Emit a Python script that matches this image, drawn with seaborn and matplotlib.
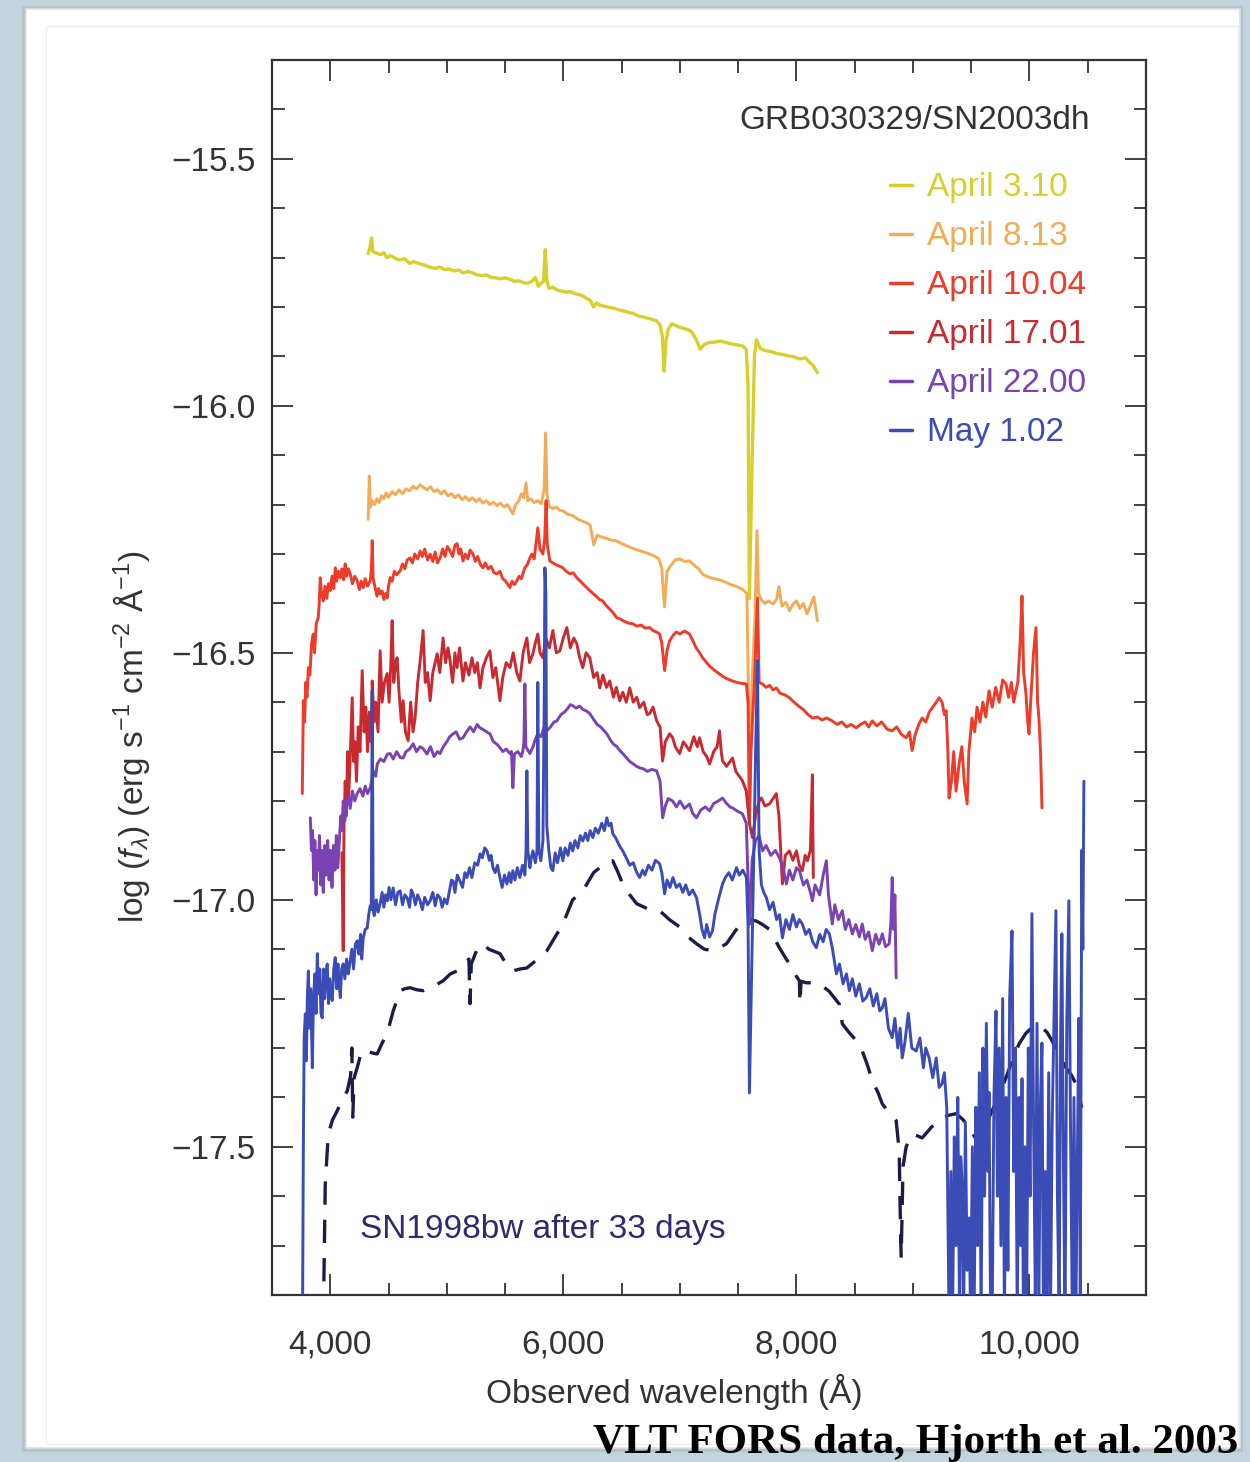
import matplotlib
matplotlib.use("Agg")
import matplotlib.pyplot as plt
import seaborn as sns
import pandas as pd
from matplotlib.ticker import MultipleLocator, FuncFormatter
from matplotlib.patches import Rectangle
from matplotlib.lines import Line2D

sns.set_theme(style="ticks")
plt.rcParams["font.family"] = ["Liberation Sans", "DejaVu Sans"]
plt.rcParams["mathtext.fontset"] = "custom"
plt.rcParams["mathtext.rm"] = "Liberation Sans"
plt.rcParams["mathtext.it"] = "Liberation Sans:italic"

# ---------------- data: (wavelength [A], log f_lambda) ----------------
yellow = [(4325,-15.692),(4340,-15.680),(4355,-15.660),(4365,-15.688),(4390,-15.690),(4430,-15.694),
          (4460,-15.690),(4485,-15.700),(4515,-15.696),(4540,-15.699),(4570,-15.703),(4600,-15.705),
          (4640,-15.702),(4680,-15.712),(4715,-15.708),(4750,-15.711),(4790,-15.714),(4820,-15.716),
          (4860,-15.720),(4900,-15.722),(4940,-15.719),(4980,-15.724),(5020,-15.723),(5060,-15.727),
          (5100,-15.725),(5140,-15.731),(5180,-15.728),(5220,-15.731),(5260,-15.735),(5300,-15.736),
          (5340,-15.735),(5380,-15.740),(5420,-15.741),(5460,-15.743),(5500,-15.741),(5540,-15.744),
          (5580,-15.748),(5620,-15.747),(5660,-15.751),(5700,-15.752),(5735,-15.747),(5760,-15.740),
          (5785,-15.758),(5810,-15.752),(5830,-15.748),(5845,-15.684),(5858,-15.745),(5875,-15.762),
          (5910,-15.760),(5950,-15.766),(5990,-15.768),(6020,-15.770),(6060,-15.769),(6100,-15.773),
          (6140,-15.775),(6170,-15.778),(6200,-15.783),(6230,-15.786),(6260,-15.800),(6285,-15.792),
          (6320,-15.797),(6360,-15.799),(6400,-15.801),(6440,-15.803),(6480,-15.806),(6520,-15.808),
          (6560,-15.811),(6600,-15.813),(6640,-15.818),(6700,-15.821),(6760,-15.825),(6800,-15.828),
          (6830,-15.836),(6850,-15.860),(6865,-15.930),(6880,-15.870),(6900,-15.845),(6930,-15.834),
          (6970,-15.838),(7010,-15.842),(7060,-15.845),(7100,-15.850),(7140,-15.866),(7175,-15.885),
          (7210,-15.876),(7250,-15.872),(7300,-15.871),(7350,-15.869),(7400,-15.872),(7450,-15.875),
          (7500,-15.877),(7540,-15.879),(7570,-15.886),(7585,-15.960),(7597,-16.390),(7615,-16.170),
          (7640,-15.900),(7657,-15.866),(7690,-15.884),(7730,-15.888),(7780,-15.890),(7830,-15.894),
          (7880,-15.896),(7930,-15.899),(7980,-15.901),(8030,-15.905),(8080,-15.903),(8110,-15.912),
          (8140,-15.917),(8160,-15.925),(8180,-15.933)]

orange = [(4325,-16.230),(4335,-16.142),(4345,-16.205),(4360,-16.192),(4380,-16.200),(4400,-16.188),
          (4420,-16.196),(4440,-16.182),(4460,-16.188),(4480,-16.176),(4500,-16.185),(4530,-16.174),
          (4560,-16.180),(4590,-16.170),(4620,-16.178),(4650,-16.168),(4680,-16.172),(4710,-16.163),
          (4740,-16.168),(4770,-16.160),(4800,-16.165),(4830,-16.170),(4860,-16.164),(4890,-16.174),
          (4920,-16.170),(4950,-16.178),(4980,-16.172),(5010,-16.182),(5040,-16.178),(5070,-16.186),
          (5100,-16.180),(5130,-16.190),(5160,-16.184),(5190,-16.192),(5220,-16.186),(5250,-16.194),
          (5280,-16.188),(5310,-16.197),(5340,-16.192),(5370,-16.200),(5400,-16.195),(5430,-16.202),
          (5460,-16.197),(5490,-16.205),(5520,-16.200),(5545,-16.210),(5567,-16.219),(5590,-16.200),
          (5615,-16.194),(5640,-16.178),(5660,-16.186),(5680,-16.156),(5695,-16.192),(5720,-16.188),
          (5750,-16.196),(5780,-16.192),(5810,-16.198),(5835,-16.170),(5848,-16.055),(5860,-16.180),
          (5880,-16.204),(5910,-16.208),(5940,-16.205),(5970,-16.212),(6000,-16.213),(6040,-16.220),
          (6080,-16.222),(6120,-16.229),(6160,-16.233),(6200,-16.237),(6230,-16.241),(6260,-16.281),
          (6290,-16.262),(6330,-16.266),(6370,-16.268),(6410,-16.272),(6450,-16.273),(6490,-16.278),
          (6530,-16.282),(6570,-16.286),(6610,-16.290),(6650,-16.293),(6690,-16.296),(6730,-16.299),
          (6780,-16.304),(6820,-16.310),(6845,-16.330),(6868,-16.407),(6890,-16.335),(6920,-16.324),
          (6960,-16.312),(7000,-16.310),(7040,-16.315),(7080,-16.314),(7120,-16.322),(7160,-16.330),
          (7200,-16.342),(7240,-16.346),(7290,-16.350),(7340,-16.352),(7390,-16.357),(7440,-16.362),
          (7490,-16.366),(7540,-16.372),(7575,-16.380),(7590,-16.600),(7600,-16.800),(7620,-16.560),
          (7645,-16.420),(7662,-16.253),(7675,-16.380),(7700,-16.393),(7730,-16.400),(7760,-16.395),
          (7800,-16.401),(7830,-16.392),(7850,-16.366),(7875,-16.405),(7910,-16.398),(7940,-16.415),
          (7970,-16.402),(8000,-16.395),(8030,-16.410),(8060,-16.400),(8090,-16.421),(8120,-16.405),
          (8150,-16.387),(8165,-16.410),(8180,-16.435)]

red = [(3760,-16.785),(3769,-16.597),(3780,-16.640),(3790,-16.560),(3800,-16.590),(3812,-16.530),
       (3825,-16.545),(3840,-16.480),(3854,-16.462),(3865,-16.500),(3880,-16.440),(3897,-16.429),
       (3905,-16.400),(3914,-16.348),(3925,-16.380),(3940,-16.395),(3955,-16.365),(3970,-16.390),
       (3985,-16.360),(4000,-16.374),(4015,-16.345),(4030,-16.370),(4043,-16.328),(4055,-16.355),
       (4070,-16.335),(4086,-16.348),(4100,-16.330),(4115,-16.352),(4128,-16.320),(4140,-16.345),
       (4155,-16.330),(4171,-16.340),(4190,-16.360),(4210,-16.345),(4231,-16.354),(4250,-16.372),
       (4265,-16.355),(4283,-16.368),(4300,-16.350),(4320,-16.365),(4343,-16.354),(4353,-16.330),
       (4360,-16.273),(4368,-16.350),(4385,-16.368),(4400,-16.385),(4415,-16.370),(4428,-16.381),
       (4445,-16.375),(4460,-16.392),(4475,-16.380),(4488,-16.389),(4500,-16.365),(4514,-16.348),
       (4530,-16.355),(4550,-16.335),(4570,-16.342),(4600,-16.334),(4620,-16.320),(4640,-16.330),
       (4660,-16.312),(4685,-16.308),(4705,-16.318),(4725,-16.300),(4750,-16.310),(4771,-16.294),
       (4790,-16.305),(4810,-16.290),(4835,-16.312),(4857,-16.300),(4880,-16.315),(4900,-16.296),
       (4920,-16.318),(4942,-16.308),(4965,-16.290),(4985,-16.305),(5005,-16.285),(5028,-16.294),
       (5050,-16.305),(5070,-16.282),(5088,-16.279),(5105,-16.300),(5120,-16.290),(5139,-16.314),
       (5160,-16.300),(5180,-16.310),(5200,-16.292),(5225,-16.300),(5245,-16.315),(5265,-16.305),
       (5290,-16.322),(5310,-16.328),(5330,-16.318),(5355,-16.330),(5380,-16.325),(5405,-16.338),
       (5430,-16.340),(5455,-16.335),(5480,-16.350),(5505,-16.355),(5525,-16.362),(5542,-16.368),
       (5560,-16.355),(5580,-16.362),(5602,-16.354),(5620,-16.345),(5640,-16.350),(5653,-16.340),
       (5670,-16.328),(5690,-16.322),(5713,-16.308),(5730,-16.300),(5750,-16.310),(5765,-16.280),
       (5781,-16.247),(5800,-16.290),(5824,-16.300),(5840,-16.270),(5852,-16.192),(5862,-16.280),
       (5884,-16.314),(5910,-16.318),(5940,-16.322),(5970,-16.325),(5996,-16.328),(6025,-16.335),
       (6055,-16.340),(6085,-16.338),(6116,-16.348),(6145,-16.355),(6175,-16.362),(6200,-16.368),
       (6227,-16.374),(6255,-16.380),(6285,-16.386),(6310,-16.392),(6338,-16.395),(6370,-16.405),
       (6400,-16.412),(6430,-16.420),(6458,-16.429),(6490,-16.432),(6520,-16.436),(6560,-16.440),
       (6595,-16.441),(6630,-16.446),(6670,-16.444),(6700,-16.450),(6741,-16.449),(6770,-16.455),
       (6800,-16.458),(6826,-16.462),(6845,-16.480),(6869,-16.536),(6890,-16.495),(6912,-16.476),
       (6940,-16.465),(6970,-16.458),(7000,-16.462),(7040,-16.456),(7083,-16.462),(7110,-16.475),
       (7140,-16.490),(7170,-16.500),(7195,-16.510),(7230,-16.520),(7260,-16.528),(7300,-16.536),
       (7340,-16.543),(7370,-16.548),(7400,-16.552),(7430,-16.555),(7452,-16.557),(7490,-16.560),
       (7530,-16.562),(7571,-16.563),(7585,-16.600),(7597,-16.846),(7610,-16.700),(7640,-16.560),
       (7666,-16.389),(7680,-16.560),(7709,-16.563),(7740,-16.570),(7770,-16.566),(7800,-16.575),
       (7828,-16.571),(7860,-16.582),(7900,-16.585),(7940,-16.591),(7980,-16.600),(8020,-16.608),
       (8060,-16.615),(8100,-16.625),(8137,-16.632),(8180,-16.630),(8220,-16.636),(8260,-16.632),
       (8308,-16.638),(8350,-16.645),(8390,-16.640),(8430,-16.650),(8470,-16.645),(8514,-16.652),
       (8550,-16.645),(8590,-16.640),(8620,-16.650),(8651,-16.638),(8690,-16.648),(8730,-16.640),
       (8780,-16.655),(8822,-16.658),(8860,-16.650),(8900,-16.665),(8942,-16.672),(8970,-16.660),
       (8993,-16.698),(9020,-16.665),(9050,-16.645),(9079,-16.632),(9110,-16.640),(9140,-16.620),
       (9170,-16.610),(9200,-16.600),(9225,-16.591),(9250,-16.600),(9270,-16.625),(9285,-16.617),
       (9300,-16.700),(9310,-16.794),(9330,-16.760),(9350,-16.700),(9370,-16.780),(9396,-16.725),
       (9420,-16.690),(9440,-16.760),(9465,-16.806),(9480,-16.700),(9507,-16.632),(9530,-16.660),
       (9550,-16.610),(9575,-16.640),(9600,-16.600),(9625,-16.630),(9653,-16.577),(9680,-16.610),
       (9710,-16.570),(9740,-16.600),(9770,-16.555),(9799,-16.563),(9820,-16.590),(9845,-16.560),
       (9865,-16.600),(9884,-16.577),(9900,-16.560),(9920,-16.480),(9936,-16.385),(9950,-16.540),
       (9970,-16.583),(9985,-16.640),(9996,-16.664),(10010,-16.600),(10035,-16.500),(10056,-16.449),
       (10070,-16.600),(10081,-16.632),(10095,-16.700),(10107,-16.814)]

darkred = [(4100,-16.905),(4111,-17.103),(4118,-16.850),(4128,-16.760),(4138,-16.830),(4148,-16.700),
           (4158,-16.790),(4170,-16.720),(4188,-16.591),(4200,-16.720),(4212,-16.680),(4225,-16.760),
           (4240,-16.650),(4255,-16.700),(4274,-16.536),(4290,-16.660),(4305,-16.610),(4320,-16.700),
           (4335,-16.620),(4350,-16.680),(4360,-16.557),(4375,-16.640),(4390,-16.600),(4410,-16.660),
           (4428,-16.496),(4445,-16.600),(4465,-16.560),(4488,-16.542),(4505,-16.600),(4520,-16.520),
           (4531,-16.435),(4545,-16.560),(4560,-16.520),(4574,-16.510),(4590,-16.580),(4610,-16.640),
           (4625,-16.597),(4645,-16.660),(4668,-16.678),(4690,-16.600),(4710,-16.660),(4728,-16.632),
           (4750,-16.560),(4770,-16.520),(4797,-16.455),(4815,-16.560),(4835,-16.540),(4857,-16.597),
           (4880,-16.540),(4900,-16.520),(4917,-16.502),(4940,-16.540),(4968,-16.470),(4990,-16.520),
           (5010,-16.490),(5028,-16.516),(5050,-16.560),(5070,-16.500),(5088,-16.530),(5110,-16.490),
           (5139,-16.557),(5160,-16.520),(5190,-16.545),(5216,-16.510),(5240,-16.540),(5262,-16.520),
           (5285,-16.571),(5310,-16.530),(5340,-16.510),(5370,-16.496),(5395,-16.550),(5420,-16.530),
           (5456,-16.597),(5480,-16.550),(5510,-16.520),(5542,-16.530),(5570,-16.500),(5600,-16.540),
           (5627,-16.557),(5655,-16.500),(5687,-16.470),(5710,-16.520),(5739,-16.502),(5760,-16.480),
           (5781,-16.462),(5800,-16.500),(5824,-16.510),(5850,-16.470),(5880,-16.490),(5910,-16.455),
           (5940,-16.500),(5970,-16.496),(6000,-16.470),(6030,-16.449),(6060,-16.490),(6090,-16.470),
           (6116,-16.482),(6140,-16.510),(6167,-16.530),(6195,-16.500),(6227,-16.510),(6260,-16.550),
           (6290,-16.540),(6313,-16.571),(6340,-16.545),(6370,-16.570),(6398,-16.557),(6430,-16.590),
           (6455,-16.570),(6484,-16.597),(6510,-16.580),(6540,-16.600),(6570,-16.571),(6600,-16.600),
           (6630,-16.590),(6655,-16.611),(6690,-16.600),(6720,-16.625),(6741,-16.623),(6770,-16.610),
           (6801,-16.638),(6830,-16.650),(6852,-16.719),(6875,-16.680),(6912,-16.664),(6938,-16.672),
           (6960,-16.690),(6998,-16.704),(7030,-16.680),(7060,-16.690),(7083,-16.698),(7120,-16.670),
           (7150,-16.690),(7169,-16.672),(7200,-16.700),(7230,-16.710),(7255,-16.725),(7290,-16.700),
           (7320,-16.690),(7340,-16.658),(7355,-16.700),(7366,-16.719),(7400,-16.730),(7430,-16.720),
           (7452,-16.713),(7480,-16.740),(7510,-16.750),(7537,-16.759),(7570,-16.780),(7597,-16.846),
           (7623,-16.874),(7650,-16.830),(7680,-16.800),(7700,-16.794),(7730,-16.810),(7769,-16.806),
           (7800,-16.795),(7828,-16.785),(7850,-16.830),(7880,-16.968),(7905,-16.910),(7940,-16.901),
           (7970,-16.920),(8000,-16.901),(8025,-16.930),(8051,-16.941),(8075,-16.910),(8094,-16.921),
           (8120,-16.900),(8137,-16.747),(8145,-16.955)]

purple = [(3829,-16.834),(3838,-16.900),(3848,-16.860),(3858,-16.960),(3868,-16.880),(3878,-16.990),
          (3888,-16.900),(3898,-16.940),(3908,-16.870),(3918,-16.970),(3928,-16.900),(3940,-16.985),
          (3952,-16.890),(3965,-16.950),(3978,-16.880),(3990,-16.960),(4002,-16.900),(4015,-16.975),
          (4028,-16.890),(4040,-16.940),(4052,-16.870),(4065,-16.935),(4078,-16.880),(4090,-16.830),
          (4100,-16.860),(4111,-16.800),(4125,-16.840),(4140,-16.810),(4155,-16.790),(4171,-16.815),
          (4190,-16.780),(4210,-16.800),(4231,-16.785),(4255,-16.775),(4280,-16.790),(4300,-16.770),
          (4320,-16.785),(4343,-16.773),(4370,-16.740),(4390,-16.750),(4403,-16.725),(4430,-16.715),
          (4460,-16.720),(4490,-16.705),(4514,-16.704),(4540,-16.715),(4570,-16.700),(4600,-16.712),
          (4625,-16.713),(4650,-16.700),(4680,-16.695),(4711,-16.684),(4740,-16.700),(4770,-16.690),
          (4797,-16.694),(4830,-16.705),(4860,-16.690),(4890,-16.710),(4920,-16.700),(4942,-16.704),
          (4970,-16.690),(5000,-16.680),(5025,-16.670),(5054,-16.664),(5080,-16.660),(5110,-16.675),
          (5139,-16.672),(5170,-16.660),(5200,-16.650),(5230,-16.660),(5260,-16.645),(5285,-16.652),
          (5310,-16.655),(5340,-16.660),(5370,-16.664),(5400,-16.680),(5430,-16.685),(5456,-16.692),
          (5480,-16.700),(5510,-16.695),(5542,-16.704),(5555,-16.700),(5567,-16.773),(5580,-16.705),
          (5610,-16.700),(5640,-16.710),(5653,-16.698),(5662,-16.680),(5670,-16.563),(5678,-16.690),
          (5713,-16.704),(5740,-16.690),(5760,-16.675),(5781,-16.664),(5810,-16.670),(5835,-16.650),
          (5859,-16.658),(5890,-16.650),(5920,-16.640),(5944,-16.638),(5980,-16.625),(6010,-16.620),
          (6040,-16.612),(6060,-16.605),(6081,-16.607),(6110,-16.612),(6140,-16.608),(6170,-16.615),
          (6200,-16.618),(6227,-16.623),(6260,-16.635),(6290,-16.645),(6320,-16.650),(6350,-16.658),
          (6373,-16.664),(6400,-16.675),(6430,-16.685),(6460,-16.690),(6485,-16.698),(6510,-16.704),
          (6540,-16.712),(6570,-16.720),(6600,-16.725),(6630,-16.730),(6655,-16.733),(6690,-16.735),
          (6720,-16.740),(6760,-16.736),(6801,-16.739),(6830,-16.760),(6852,-16.834),(6875,-16.810),
          (6900,-16.795),(6938,-16.800),(6970,-16.812),(7000,-16.800),(7040,-16.815),(7083,-16.806),
          (7110,-16.825),(7143,-16.834),(7180,-16.818),(7220,-16.812),(7255,-16.820),(7290,-16.805),
          (7330,-16.800),(7366,-16.794),(7400,-16.805),(7430,-16.812),(7452,-16.814),(7490,-16.820),
          (7537,-16.826),(7570,-16.845),(7597,-17.050),(7620,-16.920),(7650,-16.880),(7680,-16.870),
          (7709,-16.901),(7740,-16.890),(7780,-16.910),(7820,-16.900),(7854,-16.915),(7880,-16.930),
          (7914,-16.968),(7940,-16.940),(7970,-16.960),(8000,-16.935),(8026,-16.941),(8060,-16.970),
          (8090,-16.960),(8120,-16.985),(8137,-17.002),(8160,-16.970),(8200,-16.990),(8230,-16.950),
          (8257,-16.921),(8275,-16.990),(8308,-17.049),(8330,-17.010),(8360,-17.040),(8394,-17.022),
          (8420,-17.060),(8450,-17.040),(8480,-17.069),(8510,-17.050),(8540,-17.075),(8565,-17.049),
          (8590,-17.080),(8620,-17.065),(8651,-17.103),(8680,-17.070),(8710,-17.090),(8737,-17.069),
          (8765,-17.095),(8796,-17.089),(8810,-17.050),(8822,-16.955),(8835,-17.060),(8845,-16.990),
          (8856,-17.158)]

blue = [(3762,-17.85),(3769,-17.50),(3776,-17.28),(3786,-17.231),(3795,-17.326),(3803,-17.200),
        (3812,-17.144),(3822,-17.260),(3832,-17.180),(3846,-17.340),(3856,-17.200),(3868,-17.150),
        (3878,-17.230),(3889,-17.109),(3900,-17.190),(3910,-17.140),(3920,-17.230),(3931,-17.239),
        (3942,-17.140),(3952,-17.200),(3963,-17.150),(3974,-17.130),(3985,-17.210),(3995,-17.160),
        (4005,-17.190),(4017,-17.204),(4030,-17.140),(4043,-17.117),(4055,-17.180),(4066,-17.130),
        (4076,-17.170),(4086,-17.198),(4098,-17.140),(4111,-17.130),(4125,-17.160),(4140,-17.120),
        (4155,-17.150),(4171,-17.124),(4185,-17.100),(4200,-17.140),(4215,-17.090),(4231,-17.083),
        (4245,-17.110),(4260,-17.070),(4270,-17.120),(4283,-17.077),(4300,-17.060),(4317,-17.057),
        (4330,-17.030),(4343,-17.012),(4352,-17.020),(4360,-16.577),(4368,-17.020),(4377,-17.032),
        (4395,-17.000),(4410,-17.025),(4428,-17.008),(4445,-16.985),(4460,-17.015),(4475,-16.990),
        (4488,-17.002),(4505,-16.975),(4520,-17.000),(4540,-16.976),(4560,-17.010),(4580,-16.985),
        (4600,-16.982),(4620,-17.010),(4640,-16.990),(4660,-16.996),(4680,-17.015),(4695,-16.980),
        (4711,-16.988),(4730,-17.010),(4750,-16.990),(4771,-17.002),(4790,-17.020),(4810,-16.995),
        (4835,-17.010),(4857,-17.002),(4880,-16.985),(4900,-17.012),(4920,-16.990),(4942,-16.996),
        (4960,-17.015),(4980,-16.998),(5002,-17.008),(5020,-16.985),(5040,-16.960),(5054,-16.962),
        (5070,-16.985),(5090,-16.950),(5113,-16.962),(5135,-16.975),(5155,-16.945),(5173,-16.955),
        (5195,-16.935),(5215,-16.955),(5240,-16.925),(5265,-16.930),(5285,-16.907),(5305,-16.915),
        (5325,-16.895),(5345,-16.901),(5365,-16.920),(5380,-16.910),(5396,-16.935),(5415,-16.945),
        (5435,-16.930),(5456,-16.955),(5475,-16.975),(5495,-16.950),(5516,-16.968),(5535,-16.945),
        (5550,-16.965),(5567,-16.941),(5585,-16.960),(5605,-16.935),(5627,-16.955),(5650,-16.930),
        (5670,-16.950),(5680,-16.900),(5687,-16.739),(5695,-16.900),(5713,-16.935),(5725,-16.915),
        (5739,-16.901),(5760,-16.925),(5774,-16.900),(5781,-16.560),(5790,-16.900),(5807,-16.921),
        (5825,-16.880),(5836,-16.600),(5842,-16.328),(5850,-16.380),(5858,-16.850),(5876,-16.901),
        (5893,-16.935),(5910,-16.941),(5930,-16.905),(5950,-16.925),(5975,-16.895),(5996,-16.921),
        (6015,-16.895),(6040,-16.910),(6060,-16.885),(6081,-16.901),(6100,-16.880),(6125,-16.895),
        (6145,-16.870),(6167,-16.881),(6190,-16.865),(6210,-16.880),(6230,-16.860),(6253,-16.874),
        (6275,-16.855),(6300,-16.865),(6330,-16.845),(6352,-16.860),(6373,-16.834),(6390,-16.850),
        (6410,-16.845),(6424,-16.866),(6450,-16.875),(6480,-16.890),(6510,-16.901),(6540,-16.915),
        (6570,-16.930),(6600,-16.925),(6630,-16.945),(6655,-16.955),(6680,-16.940),(6700,-16.950),
        (6730,-16.930),(6760,-16.940),(6790,-16.920),(6826,-16.927),(6845,-16.945),(6869,-16.988),
        (6890,-16.960),(6915,-16.975),(6940,-16.955),(6970,-16.975),(6998,-16.968),(7025,-16.985),
        (7050,-16.970),(7080,-16.990),(7110,-16.980),(7143,-16.996),(7170,-17.030),(7190,-17.060),
        (7212,-17.077),(7230,-17.050),(7255,-17.075),(7280,-17.063),(7300,-17.030),(7330,-17.000),
        (7366,-16.968),(7390,-16.955),(7420,-16.945),(7450,-16.960),(7486,-16.935),(7510,-16.950),
        (7540,-16.940),(7571,-16.955),(7585,-17.050),(7597,-17.391),(7612,-17.200),(7635,-16.900),
        (7650,-16.700),(7666,-16.516),(7680,-16.900),(7700,-16.970),(7720,-16.985),(7743,-16.996),
        (7770,-17.020),(7800,-17.005),(7830,-17.040),(7855,-17.030),(7880,-17.077),(7910,-17.040),
        (7940,-17.060),(7970,-17.030),(8000,-17.055),(8025,-17.040),(8051,-17.049),(8080,-17.070),
        (8110,-17.060),(8140,-17.085),(8171,-17.097),(8200,-17.070),(8230,-17.085),(8255,-17.060),
        (8283,-17.069),(8310,-17.100),(8343,-17.150),(8370,-17.130),(8400,-17.170),(8430,-17.150),
        (8454,-17.184),(8480,-17.160),(8510,-17.195),(8540,-17.170),(8570,-17.205),(8599,-17.198),
        (8630,-17.180),(8660,-17.215),(8690,-17.190),(8715,-17.225),(8737,-17.219),(8760,-17.200),
        (8790,-17.260),(8822,-17.279),(8845,-17.240),(8870,-17.300),(8890,-17.260),(8908,-17.320),
        (8930,-17.290),(8960,-17.230),(8990,-17.300),(9028,-17.306),(9060,-17.280),(9090,-17.340),
        (9110,-17.300),(9139,-17.320),(9170,-17.360),(9200,-17.320),(9225,-17.380),(9250,-17.372),
        (9270,-17.350),(9290,-17.420),(9310,-17.85),(9325,-17.55),(9340,-17.85),(9355,-17.48),
        (9370,-17.70),(9385,-17.40),(9400,-17.85),(9410,-17.52),(9422,-17.575),(9435,-17.85),
        (9450,-17.45),(9465,-17.75),(9482,-17.644),(9495,-17.85),(9510,-17.50),(9525,-17.85),
        (9540,-17.42),(9555,-17.70),(9570,-17.35),(9585,-17.85),(9600,-17.30),(9615,-17.60),
        (9630,-17.25),(9645,-17.55),(9653,-17.39),(9665,-17.80),(9680,-17.85),(9695,-17.40),
        (9713,-17.225),(9725,-17.60),(9740,-17.30),(9755,-17.70),(9770,-17.20),(9785,-17.85),
        (9800,-17.40),(9815,-17.75),(9830,-17.20),(9850,-17.063),(9865,-17.55),(9880,-17.30),
        (9895,-17.85),(9910,-17.40),(9925,-17.70),(9936,-17.362),(9948,-17.85),(9960,-17.50),
        (9975,-17.85),(9990,-17.30),(10005,-17.60),(10021,-17.028),(10035,-17.45),(10050,-17.80),
        (10065,-17.25),(10080,-17.85),(10095,-17.40),(10107,-17.29),(10120,-17.85),(10135,-17.55),
        (10150,-17.85),(10165,-17.35),(10180,-17.85),(10195,-17.45),(10210,-17.25),(10227,-17.022),
        (10240,-17.60),(10255,-17.85),(10266,-17.30),(10278,-17.069),(10290,-17.50),(10305,-17.85),
        (10320,-17.25),(10338,-17.002),(10352,-17.45),(10368,-17.85),(10382,-17.40),(10398,-17.85),
        (10410,-17.55),(10424,-17.24),(10436,-17.80),(10449,-16.90),(10458,-17.10),(10467,-16.76)]

sn1998bw = [(3935,-17.85),(3945,-17.777),(3957,-17.575),(3983,-17.474),(4020,-17.445),(4060,-17.427),
            (4100,-17.405),(4146,-17.387),(4175,-17.355),(4185,-17.300),(4193,-17.440),(4205,-17.360),
            (4231,-17.340),(4270,-17.305),(4317,-17.306),(4360,-17.310),(4403,-17.312),(4445,-17.290),
            (4488,-17.271),(4540,-17.225),(4600,-17.184),(4640,-17.180),(4685,-17.178),(4740,-17.182),
            (4797,-17.184),(4880,-17.176),(4968,-17.164),(5030,-17.150),(5088,-17.144),(5150,-17.130),
            (5190,-17.120),(5199,-17.210),(5210,-17.130),(5260,-17.100),(5310,-17.089),(5360,-17.100),
            (5456,-17.109),(5510,-17.130),(5567,-17.144),(5630,-17.140),(5687,-17.138),(5780,-17.120),
            (5859,-17.103),(5930,-17.075),(5996,-17.049),(6080,-17.000),(6167,-16.982),(6260,-16.945),
            (6338,-16.930),(6380,-16.922),(6424,-16.921),(6470,-16.945),(6510,-16.968),(6570,-16.990),
            (6630,-17.008),(6740,-17.020),(6826,-17.022),(6910,-17.040),(6998,-17.055),(7070,-17.075),
            (7143,-17.089),(7210,-17.100),(7280,-17.103),(7340,-17.097),(7400,-17.089),(7470,-17.065),
            (7537,-17.043),(7600,-17.040),(7657,-17.043),(7709,-17.050),(7769,-17.060),(7854,-17.097),
            (7900,-17.115),(7940,-17.130),(8000,-17.155),(8026,-17.164),(8030,-17.210),(8040,-17.165),
            (8085,-17.168),(8140,-17.168),(8197,-17.170),(8280,-17.185),(8368,-17.211),(8394,-17.251),
            (8450,-17.268),(8514,-17.285),(8565,-17.306),(8610,-17.335),(8651,-17.366),(8700,-17.390),
            (8737,-17.413),(8800,-17.432),(8856,-17.447),(8882,-17.508),(8890,-17.620),(8899,-17.725),
            (8915,-17.540),(8942,-17.500),(8993,-17.474),(9040,-17.478),(9079,-17.482),(9160,-17.460),
            (9250,-17.441),(9310,-17.436),(9370,-17.433),(9430,-17.445),(9482,-17.462),(9530,-17.480),
            (9567,-17.494),(9610,-17.470),(9653,-17.441),(9730,-17.400),(9799,-17.360),(9860,-17.320),
            (9910,-17.292),(9970,-17.270),(10021,-17.259),(10060,-17.255),(10107,-17.259),(10150,-17.268),
            (10193,-17.285),(10250,-17.310),(10313,-17.340),(10360,-17.355),(10398,-17.372),(10449,-17.421)]

series_labels = ["April 3.10", "April 8.13", "April 10.04", "April 17.01", "April 22.00", "May 1.02"]
series_colors = ["#d9cf2b", "#f3ab55", "#ee3b2a", "#c82a30", "#7b42b3", "#3b4cb6"]
series_data = [yellow, orange, red, darkred, purple, blue]
template_label = "SN1998bw after 33 days"
object_label = "GRB030329/SN2003dh"

# ---------------- figure ----------------
W, H = 1250, 1462
fig = plt.figure(figsize=(W / 100, H / 100), dpi=100)
fig.patch.set_facecolor("#c3d5dc")
fig.patches.append(Rectangle((22 / W, 1 - 1452 / H), (1243 - 22) / W, (1452 - 6) / H,
                             transform=fig.transFigure, facecolor="#9aa6ab", edgecolor="none",
                             alpha=0.35, zorder=-3))
fig.patches.append(Rectangle((26 / W, 1 - 1448 / H), (1240 - 26) / W, (1448 - 9) / H,
                             transform=fig.transFigure, facecolor="white", edgecolor="#dfe3e5",
                             lw=1.2, zorder=-2))
fig.patches.append(Rectangle((46 / W, 1 - 1444 / H), (1238 - 46) / W, (1444 - 26) / H,
                             transform=fig.transFigure, facecolor="white", edgecolor="#eeeeee",
                             lw=1.0, zorder=-1))

ax = fig.add_axes([272 / W, 1 - 1295 / H, (1146 - 272) / W, (1295 - 60) / H])
ax.set_zorder(2)
ax.set_facecolor("white")

for pts, col, lab in zip(series_data, series_colors, series_labels):
    df = pd.DataFrame(pts, columns=["wl", "flux"])
    lw = 2.4 if lab == "April 3.10" else 2.1
    sns.lineplot(data=df, x="wl", y="flux", ax=ax, color=col, lw=lw,
                 sort=False, estimator=None, legend=False, zorder=3)

df_t = pd.DataFrame(sn1998bw, columns=["wl", "flux"])
sns.lineplot(data=df_t, x="wl", y="flux", ax=ax, color="#1c1c48", lw=2.4,
             sort=False, estimator=None, legend=False, zorder=2)
ax.lines[-1].set_dashes([7, 4.5])

ax.set_xlim(3500, 11000)
ax.set_ylim(-17.8, -15.3)
ax.xaxis.set_major_locator(MultipleLocator(2000))
ax.xaxis.set_minor_locator(MultipleLocator(500))
ax.yaxis.set_major_locator(MultipleLocator(0.5))
ax.yaxis.set_minor_locator(MultipleLocator(0.1))
ax.xaxis.set_major_formatter(FuncFormatter(lambda v, p: f"{v:,.0f}"))
ax.yaxis.set_major_formatter(FuncFormatter(lambda v, p: f"{v:.1f}".replace("-", "\u2212")))

tc = "#333333"
ax.tick_params(which="both", direction="in", top=True, right=True, color=tc, labelcolor=tc, width=1.3)
ax.tick_params(which="major", length=15, labelsize=24)
ax.tick_params(which="minor", length=9)
ax.tick_params(axis="x", which="major", pad=25)
ax.tick_params(axis="y", which="major", pad=12)
for s in ax.spines.values():
    s.set_color(tc)
    s.set_linewidth(1.6)

ax.set_xlabel("Observed wavelength (Å)", fontsize=24, color=tc)
ax.xaxis.set_label_coords(0.46, -0.064)
ax.set_ylabel(r"log ($f_\lambda$) (erg s$^{-1}$ cm$^{-2}$ Å$^{-1}$)", fontsize=24, color=tc)
ax.yaxis.set_label_coords(-0.137, 0.452)

ax.text(0.936, 0.951, object_label, transform=ax.transAxes, ha="right", va="center",
        fontsize=24, color=tc)
ax.text(0.101, 0.053, template_label, transform=ax.transAxes, ha="left", va="center",
        fontsize=24, color="#2c2c6c")

handles = [Line2D([0], [0], color=c, lw=2.5) for c in series_colors]
ax.legend(handles, series_labels, loc="upper left", bbox_to_anchor=(0.707, 0.909),
          frameon=False, fontsize=24, labelcolor=series_colors, handlelength=0.65,
          handletextpad=0.45, labelspacing=0.54, borderpad=0, borderaxespad=0)

fig.text(1238 / W, 1 - 1443 / H, "VLT FORS data, Hjorth et al. 2003", ha="right", va="center",
         fontsize=31, fontweight="bold", family=["Liberation Serif", "DejaVu Serif"], color="black")

fig.savefig("out.png", dpi=100)
